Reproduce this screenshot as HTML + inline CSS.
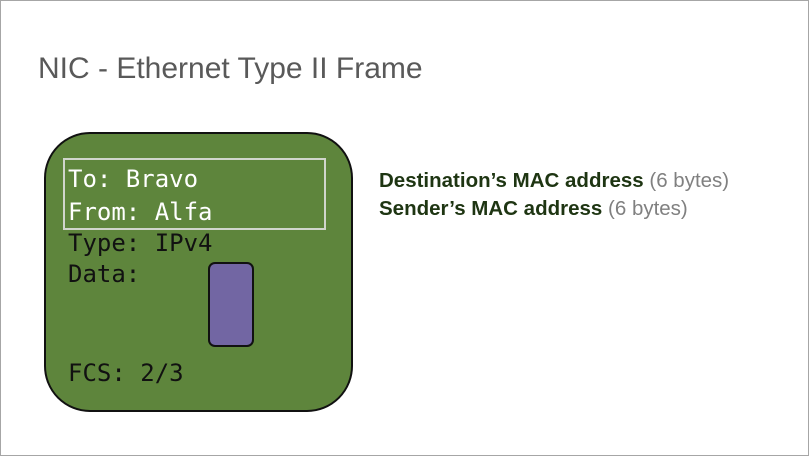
<!DOCTYPE html>
<html><head><meta charset="utf-8"><style>
html,body{margin:0;padding:0;background:#fff;}
#s{position:relative;width:807px;height:454px;border:1px solid #a6a6a6;overflow:hidden;}
.t{position:absolute;white-space:nowrap;}
.m{font-family:"DejaVu Sans Mono","Liberation Mono",monospace;font-size:24px;line-height:1;}
</style></head><body><div id="s">
<div class="t" style="left:37px;top:51px;font-family:'Liberation Sans',sans-serif;font-size:30px;color:#595959;">NIC - Ethernet Type II Frame</div>
<div style="position:absolute;left:43px;top:131px;width:305px;height:276px;background:#5e853c;border:2px solid #111;border-radius:46px;"></div>
<div style="position:absolute;left:62px;top:157px;width:259px;height:68px;border:2px solid #d0d5cc;"></div>
<div class="t m" style="left:67px;top:166px;color:#fff;">To: Bravo</div>
<div class="t m" style="left:67px;top:199px;color:#fff;">From: Alfa</div>
<div class="t m" style="left:67px;top:230px;color:#111;">Type: IPv4</div>
<div class="t m" style="left:67px;top:261px;color:#111;">Data:</div>
<div class="t m" style="left:67px;top:360px;color:#111;">FCS: 2/3</div>
<div style="position:absolute;left:207px;top:261px;width:42px;height:81px;background:#7266a3;border:2px solid #111;border-radius:7px;"></div>
<div class="t" style="left:378px;top:166px;font-family:'Liberation Sans',sans-serif;font-size:20.5px;line-height:28px;">
<span style="color:#1e3512;font-weight:bold;">Destination’s MAC address</span> <span style="color:#808080;">(6 bytes)</span><br>
<span style="color:#1e3512;font-weight:bold;">Sender’s MAC address</span> <span style="color:#808080;">(6 bytes)</span></div>
</div></body></html>
